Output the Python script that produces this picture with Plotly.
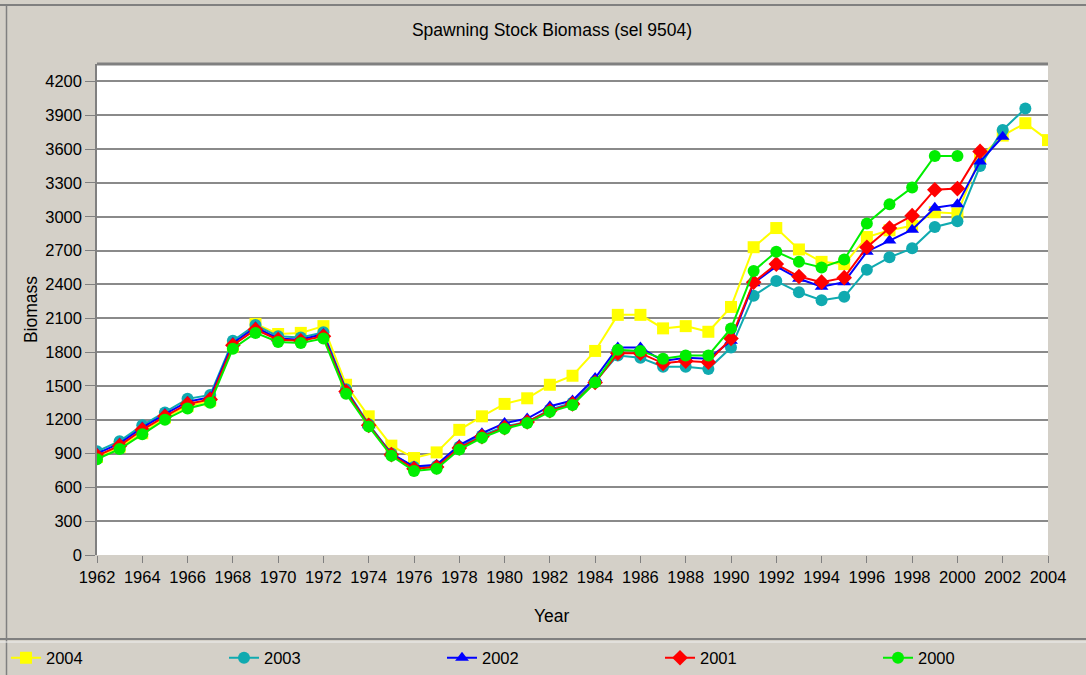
import plotly.graph_objects as go

years = list(range(1962, 2005))

ssb_2004 = [870, 960, 1080, 1220, 1320, 1370, 1850, 2050, 1960, 1970, 2030, 1510, 1230, 970, 860,
            910, 1110, 1230, 1340, 1390, 1510, 1590, 1810, 2130, 2130, 2010, 2030, 1980, 2200, 2730,
            2900, 2710, 2600, 2580, 2820, 2880, 2920, 3040, 3030, 3530, 3720, 3830, 3680]
ssb_2003 = [920, 1010, 1150, 1265, 1385, 1420, 1900, 2040, 1940, 1930, 1975, 1470, 1160, 900, 780,
            790, 960, 1060, 1140, 1180, 1290, 1350, 1540, 1770, 1750, 1670, 1670, 1650, 1840, 2300,
            2430, 2330, 2260, 2290, 2530, 2640, 2720, 2910, 2960, 3450, 3770, 3960]
ssb_2002 = [900, 990, 1130, 1250, 1360, 1400, 1880, 2020, 1920, 1910, 1960, 1460, 1150, 900, 785,
            800, 975, 1080, 1170, 1210, 1320, 1370, 1570, 1840, 1840, 1720, 1750, 1740, 1900, 2410,
            2560, 2450, 2380, 2420, 2690, 2790, 2885, 3080, 3110, 3490, 3710]
ssb_2001 = [880, 970, 1110, 1230, 1340, 1380, 1860, 2000, 1910, 1900, 1940, 1450, 1150, 890, 765,
            780, 950, 1050, 1130, 1180, 1280, 1340, 1530, 1790, 1790, 1700, 1720, 1710, 1920, 2420,
            2580, 2470, 2420, 2460, 2730, 2900, 3010, 3240, 3250, 3580]
ssb_2000 = [850, 940, 1070, 1200, 1300, 1350, 1830, 1970, 1890, 1880, 1920, 1430, 1140, 880, 745,
            765, 935, 1040, 1120, 1170, 1270, 1330, 1530, 1820, 1810, 1740, 1770, 1770, 2010, 2520,
            2690, 2600, 2550, 2620, 2940, 3110, 3260, 3540, 3540]

series_names = ["2004", "2003", "2002", "2001", "2000"]
series_values = [ssb_2004, ssb_2003, ssb_2002, ssb_2001, ssb_2000]
series_colors = ["#FFFF00", "#10AAB0", "#0000FF", "#FF0000", "#00EE00"]
series_symbols = ["square", "circle", "triangle-up", "diamond", "circle"]

title_text = "Spawning Stock Biomass (sel 9504)"
x_title = "Year"
y_title = "Biomass"

BG = "#D4D0C8"
FONT = "Liberation Sans, Arial, sans-serif"
FS = 16.5
FS_T = 17.5

W, H = 1086, 675
L, R, T, B = 97, 38, 64, 120
PW, PH = W - L - R, H - T - B


def px(xp):
    return (xp - L) / PW


def py(yp):
    return (H - B - yp) / PH


fig = go.Figure()
for i, (name, vals, col, sym) in enumerate(zip(series_names, series_values, series_colors, series_symbols)):
    fig.add_trace(go.Scatter(
        x=years[:len(vals)], y=vals, name=name, mode="lines+markers",
        line=dict(color=col, width=2),
        marker=dict(color=col, symbol=sym, size=12, line=dict(width=0)),
        legendwidth=60 if i == len(series_names) - 1 else None,
    ))

shapes = [
    dict(type="line", xref="paper", yref="paper", x0=0, x1=1, y0=1, y1=1,
         line=dict(color="#808080", width=3)),
    dict(type="line", xref="paper", yref="paper", x0=px(0), x1=px(W), y0=py(5), y1=py(5),
         line=dict(color="#808080", width=2)),
    dict(type="line", xref="paper", yref="paper", x0=px(6.5), x1=px(6.5), y0=py(5), y1=py(H),
         line=dict(color="#808080", width=1.5)),
    dict(type="line", xref="paper", yref="paper", x0=px(0), x1=px(W), y0=py(639), y1=py(639),
         line=dict(color="#808080", width=2)),
    dict(type="line", xref="paper", yref="paper", x0=px(0), x1=px(W), y0=py(642), y1=py(642),
         line=dict(color="#F0F0F0", width=1)),
]

annotations = [
    dict(text=x_title, xref="paper", yref="paper", x=px(552), y=py(616),
         xanchor="center", yanchor="middle", showarrow=False,
         font=dict(family=FONT, size=FS_T, color="black")),
]

fig.update_layout(
    width=W, height=H,
    margin=dict(l=L, r=R, t=T, b=B, autoexpand=False),
    paper_bgcolor=BG, plot_bgcolor="white",
    font=dict(family=FONT, size=FS, color="black"),
    title=dict(text=title_text, x=552 / W, xref="container", xanchor="center",
               y=1 - 30 / H, yref="container", yanchor="middle",
               font=dict(family=FONT, size=FS_T, color="black")),
    xaxis=dict(range=[1962, 2004], tick0=1962, dtick=2, ticks="outside", ticklen=7,
               tickcolor="#808080", tickwidth=1, showgrid=False, zeroline=False,
               showline=False, automargin=False),
    yaxis=dict(range=[0, 4355], tick0=0, dtick=300, ticks="outside", ticklen=10,
               tickcolor="#808080", tickwidth=1, showgrid=True, gridcolor="#8a8a8a",
               gridwidth=2, zeroline=False, showline=True, linecolor="#808080",
               linewidth=1.5, automargin=False,
               title=dict(text=y_title, standoff=3, font=dict(size=FS_T))),
    legend=dict(orientation="h", x=px(6), xanchor="left", y=py(658), yanchor="middle",
                bgcolor="rgba(0,0,0,0)", entrywidth=173, entrywidthmode="pixels",
                font=dict(family=FONT, size=FS), traceorder="normal"),
    shapes=shapes,
    annotations=annotations,
    showlegend=True,
)

fig.write_html("out.html", config={"displayModeBar": False},
               post_script="document.body.style.margin='0';document.body.style.overflow='hidden';")
